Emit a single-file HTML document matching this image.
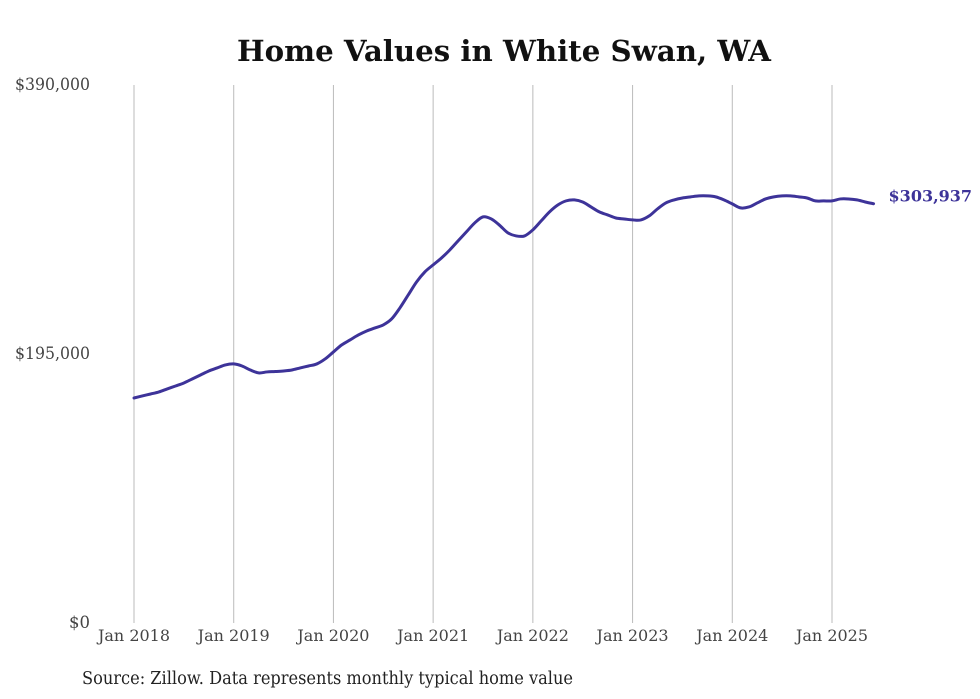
<!DOCTYPE html>
<html><head><meta charset="utf-8">
<style>
body{margin:0;background:#fff;}
svg{display:block;}
.t{font-family:"DejaVu Serif","Liberation Serif",serif;}
.c{font-family:"DejaVu Serif","Liberation Serif",serif;}
</style></head>
<body>
<svg id="chart" width="980" height="699" viewBox="0 0 980 699">
<text class="t" x="504" y="61" text-anchor="middle" font-size="29" font-weight="bold" fill="#111" textLength="534" lengthAdjust="spacingAndGlyphs">Home Values in White Swan, WA</text>
<g id="grid"></g>
<g id="yaxis"></g>
<g id="xaxis"></g>
<path id="line" fill="none" stroke="#3d3399" stroke-width="3" stroke-linejoin="round" stroke-linecap="round"></path>
<text id="endlabel" class="t" font-size="16" font-weight="bold" fill="#3d3399"></text>
<text class="c" x="82" y="684" font-size="17.5" fill="#222" textLength="491" lengthAdjust="spacingAndGlyphs">Source: Zillow. Data represents monthly typical home value</text>
</svg>
<script>
const yTicks = [0, 195000, 390000];
const yTickLabels = ["$0", "$195,000", "$390,000"];
const xTickLabels = ["Jan 2018","Jan 2019","Jan 2020","Jan 2021","Jan 2022","Jan 2023","Jan 2024","Jan 2025"];
const xTickMonths = [0,12,24,36,48,60,72,84];
const values = [163100,164600,166000,167500,169700,171800,174000,176900,179800,182700,184900,187100,
187800,186300,183400,181300,182000,182300,182700,183400,184900,186300,187800,191400,
196500,201600,205200,208800,211700,213900,216100,220400,228400,237800,247200,254500,
259600,264600,270400,277000,283500,290000,294400,292900,288300,282800,280600,280600,
285000,291500,298000,303000,306000,306700,305200,301600,298000,295800,293600,292900,
292200,292200,295100,300200,304500,306700,308100,308900,309600,309600,308900,306700,
303800,300900,301600,304500,307400,308900,309600,309600,308900,308100,306000,306000,
306000,307400,307400,306700,305200,303937];
const endLabel = "$303,937";

const NS="http://www.w3.org/2000/svg";
const x0=134, monthW=(832-134)/84, yTop=85, yBot=623, yMax=390000;
const X=m=>x0+m*monthW;
const Y=v=>yBot-(v/yMax)*(yBot-yTop);
const grid=document.getElementById('grid'), xa=document.getElementById('xaxis'), ya=document.getElementById('yaxis');
xTickMonths.forEach((m,i)=>{
  const l=document.createElementNS(NS,'line');
  l.setAttribute('x1',X(m));l.setAttribute('x2',X(m));l.setAttribute('y1',yTop);l.setAttribute('y2',yBot);
  l.setAttribute('stroke','#bbb');l.setAttribute('stroke-width','1');
  
  
  grid.appendChild(l);
  const t=document.createElementNS(NS,'text');
  t.setAttribute('x',X(m));t.setAttribute('y',641);t.setAttribute('text-anchor','middle');
  t.setAttribute('class','c');t.setAttribute('font-size','16');t.setAttribute('fill','#444');
  t.textContent=xTickLabels[i];
  
  
  xa.appendChild(t);
});
yTicks.forEach((v,i)=>{
  const t=document.createElementNS(NS,'text');
  t.setAttribute('x',90);t.setAttribute('y',Y(v)+5);t.setAttribute('text-anchor','end');
  t.setAttribute('class','c');t.setAttribute('font-size','16.5');t.setAttribute('fill','#444');
  if(yTickLabels[i].length>3){t.setAttribute('textLength','75');t.setAttribute('lengthAdjust','spacingAndGlyphs');}
  t.textContent=yTickLabels[i];
  
  
  ya.appendChild(t);
});
const pts=values.map((v,i)=>[X(i),Y(v)]);
let d='M'+pts[0][0]+','+pts[0][1];
for(let i=0;i<pts.length-1;i++){
  const p0=pts[i-1]||pts[i],p1=pts[i],p2=pts[i+1],p3=pts[i+2]||p2;
  const c1=[p1[0]+(p2[0]-p0[0])/6,p1[1]+(p2[1]-p0[1])/6];
  const c2=[p2[0]-(p3[0]-p1[0])/6,p2[1]-(p3[1]-p1[1])/6];
  d+=' C'+c1[0]+','+c1[1]+' '+c2[0]+','+c2[1]+' '+p2[0]+','+p2[1];
}
document.getElementById('line').setAttribute('d',d);
const last=pts[pts.length-1];
const el=document.getElementById('endlabel');
el.setAttribute('x',last[0]+15);el.setAttribute('y',last[1]-2);
el.textContent=endLabel;
</script>
</body></html>
